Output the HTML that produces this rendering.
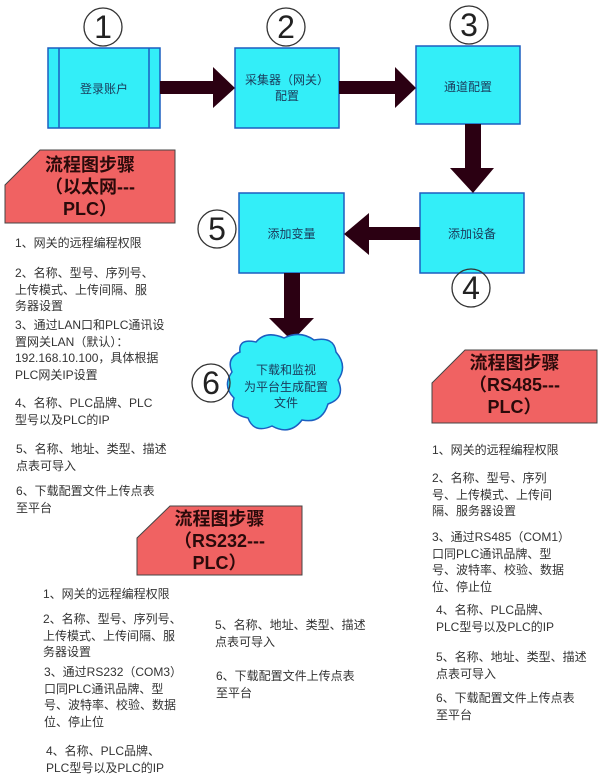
<!DOCTYPE html>
<html><head><meta charset="utf-8"><style>
body{margin:0;width:612px;height:782px;background:#fff;position:relative;overflow:hidden;font-family:"Liberation Sans","Noto Sans CJK SC",sans-serif;color:#333}
.t{position:absolute;font-size:12px;line-height:16.5px;white-space:nowrap}
.b{position:absolute;font-size:12px;color:#1a3a5a;text-align:center;white-space:nowrap}
.h{position:absolute;font-size:18px;font-weight:bold;line-height:22px;text-align:center;color:#2a0a0a;white-space:nowrap}
.n{position:absolute;font-size:32px;text-align:center;width:40px;line-height:38px;color:#222}
</style></head><body>
<svg width="612" height="782" style="position:absolute;left:0;top:0">
<g fill="#33eef8" stroke="#1c5ec0" stroke-width="1.5">
<rect x="48" y="48" width="112" height="80"/>
<rect x="235" y="48" width="104" height="80"/>
<rect x="416" y="46" width="104" height="78"/>
<rect x="420" y="193" width="104" height="80"/>
<rect x="239" y="193" width="105" height="80"/>
</g>
<line x1="59" y1="48" x2="59" y2="128" stroke="#1c5ec0" stroke-width="1.5"/>
<line x1="149" y1="48" x2="149" y2="128" stroke="#1c5ec0" stroke-width="1.5"/>
<g fill="#2b0012">
<polygon points="160,81 213,81 213,67 235,88 213,108 213,94 160,94"/>
<polygon points="339,81 395,81 395,67 416,88 395,108 395,94 339,94"/>
<polygon points="465,124 481,124 481,168 494,168 473,193 450,168 465,168"/>
<polygon points="420,227 369,227 369,213 344,234 369,255 369,240 420,240"/>
<polygon points="284,273 300,273 300,318 314,318 292,341 269,318 284,318"/>
</g>
<path d="M240,352 Q238,338 256,342 Q266,330 284,338 Q300,330 314,340 Q334,336 336,352 Q348,366 338,380 Q346,398 328,404 Q322,424 302,420 Q290,436 272,426 Q254,434 248,418 Q228,414 234,398 Q222,386 232,372 Q226,358 240,352 Z" fill="#33eef8" stroke="#1c5ec0" stroke-width="1.5"/>
<g fill="none" stroke="#333" stroke-width="1.3">
<circle cx="103" cy="27" r="19"/><circle cx="286" cy="27" r="19"/><circle cx="469" cy="25" r="19"/>
<circle cx="471" cy="288" r="19"/><circle cx="217" cy="229" r="19"/><circle cx="211" cy="383" r="19"/>
</g>
<g fill="#f06262" stroke="#444" stroke-width="1">
<polygon points="40,150 175,150 175,223 5,223 5,185"/>
<polygon points="465,350 597,350 597,423 432,423 432,383"/>
<polygon points="170,506 302,506 302,575 137,575 137,538"/>
</g>
</svg>
<div class="n" style="left:83px;top:8px">1</div>
<div class="n" style="left:266px;top:8px">2</div>
<div class="n" style="left:449px;top:6px">3</div>
<div class="n" style="left:451px;top:269px">4</div>
<div class="n" style="left:197px;top:210px">5</div>
<div class="n" style="left:191px;top:364px">6</div>
<div class="b" style="left:48px;width:112px;top:80px">登录账户</div>
<div class="b" style="left:235px;width:104px;top:72px;line-height:16px">采集器（网关）<br>配置</div>
<div class="b" style="left:416px;width:104px;top:78px">通道配置</div>
<div class="b" style="left:420px;width:104px;top:225px">添加设备</div>
<div class="b" style="left:239px;width:105px;top:225px">添加变量</div>
<div class="b" style="left:229px;width:114px;top:362px;line-height:16.5px">下载和监视<br>为平台生成配置<br>文件</div>
<div class="h" style="left:5px;width:170px;top:154px">流程图步骤<br>（以太网---<br>PLC）</div>
<div class="h" style="left:432px;width:165px;top:352px">流程图步骤<br>（RS485---<br>PLC）</div>
<div class="h" style="left:137px;width:165px;top:508px">流程图步骤<br>（RS232---<br>PLC）</div>
<div class="t" style="left:15px;top:235px">1、网关的远程编程权限</div>
<div class="t" style="left:15px;top:265px">2、名称、型号、序列号、<br>上传模式、上传间隔、服<br>务器设置</div>
<div class="t" style="left:15px;top:317px">3、通过LAN口和PLC通讯设<br>置网关LAN（默认）：<br>192.168.10.100，具体根据<br>PLC网关IP设置</div>
<div class="t" style="left:15px;top:395px">4、名称、PLC品牌、PLC<br>型号以及PLC的IP</div>
<div class="t" style="left:16px;top:441px">5、名称、地址、类型、描述<br>点表可导入</div>
<div class="t" style="left:16px;top:483px">6、下载配置文件上传点表<br>至平台</div>
<div class="t" style="left:432px;top:442px">1、网关的远程编程权限</div>
<div class="t" style="left:432px;top:470px">2、名称、型号、序列<br>号、上传模式、上传间<br>隔、服务器设置</div>
<div class="t" style="left:432px;top:529px">3、通过RS485（COM1）<br>口同PLC通讯品牌、型<br>号、波特率、校验、数据<br>位、停止位</div>
<div class="t" style="left:436px;top:602px">4、名称、PLC品牌、<br>PLC型号以及PLC的IP</div>
<div class="t" style="left:436px;top:649px">5、名称、地址、类型、描述<br>点表可导入</div>
<div class="t" style="left:436px;top:690px">6、下载配置文件上传点表<br>至平台</div>
<div class="t" style="left:43px;top:586px">1、网关的远程编程权限</div>
<div class="t" style="left:43px;top:611px">2、名称、型号、序列号、<br>上传模式、上传间隔、服<br>务器设置</div>
<div class="t" style="left:44px;top:664px">3、通过RS232（COM3）<br>口同PLC通讯品牌、型<br>号、波特率、校验、数据<br>位、停止位</div>
<div class="t" style="left:46px;top:743px">4、名称、PLC品牌、<br>PLC型号以及PLC的IP</div>
<div class="t" style="left:215px;top:617px">5、名称、地址、类型、描述<br>点表可导入</div>
<div class="t" style="left:216px;top:668px">6、下载配置文件上传点表<br>至平台</div>
</body></html>
